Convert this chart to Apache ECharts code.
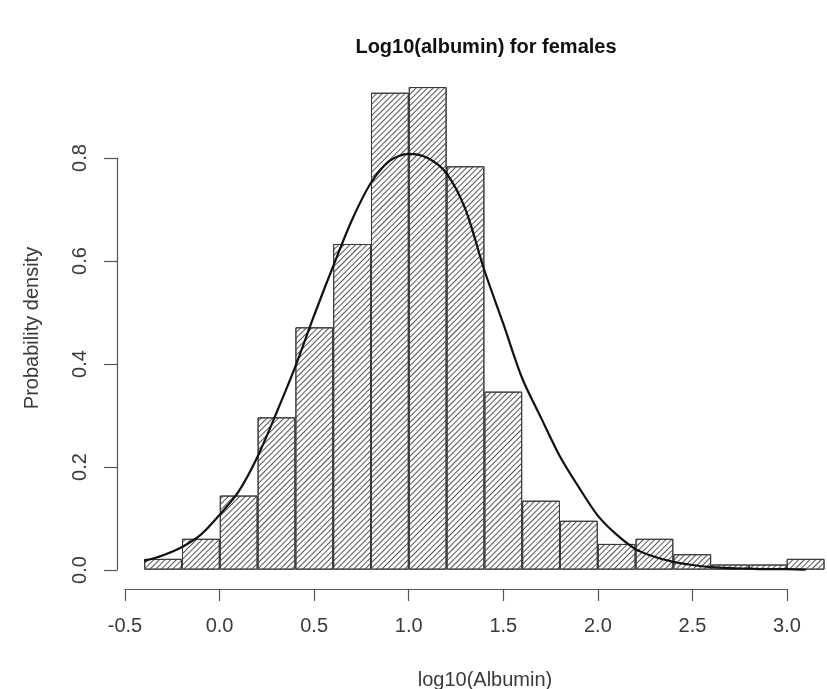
<!DOCTYPE html>
<html>
<head>
<meta charset="utf-8">
<script src="https://cdn.jsdelivr.net/npm/echarts@6/dist/echarts.min.js"></script>
<style>
  html, body { margin: 0; padding: 0; background: #fff; }
  #chart { width: 827px; height: 689px; }
</style>
</head>
<body>
<div id="chart"></div>
<script>
// histogram bins (centre of each 0.2 wide bin) and densities
var binCenters = [-0.3, -0.1, 0.1, 0.3, 0.5, 0.7, 0.9, 1.1, 1.3, 1.5, 1.7, 1.9, 2.1, 2.3, 2.5, 2.7, 2.9, 3.1];
var densities = [0.021, 0.060, 0.144, 0.296, 0.471, 0.633, 0.927, 0.938, 0.784, 0.346, 0.134, 0.095, 0.050, 0.060, 0.030, 0.010, 0.010, 0.021];

// density curve
var curveX = [-0.4, -0.3, -0.2, -0.1, 0.0, 0.1, 0.2, 0.3, 0.4, 0.5, 0.6, 0.7, 0.8, 0.9, 1.0, 1.1, 1.2, 1.3, 1.4, 1.5, 1.6, 1.7, 1.8, 1.9, 2.0, 2.1, 2.2, 2.3, 2.4, 2.5, 2.6, 2.7, 2.8, 2.9, 3.0, 3.1];
var curveY = [0.017, 0.028, 0.044, 0.068, 0.107, 0.152, 0.220, 0.305, 0.395, 0.495, 0.590, 0.680, 0.752, 0.795, 0.808, 0.800, 0.770, 0.700, 0.582, 0.478, 0.372, 0.295, 0.220, 0.160, 0.105, 0.068, 0.040, 0.025, 0.015, 0.009, 0.005, 0.003, 0.002, 0.001, 0.001, 0.000];

var xTicks = { min: -0.5, max: 3.0, step: 0.5 };
var yTicks = { min: 0, max: 0.8, step: 0.2 };

var myChart = echarts.init(document.getElementById('chart'));

var barData = binCenters.map(function (x, i) { return [x, densities[i]]; });
var lineData = curveX.map(function (x, i) { return [x, curveY[i]]; });

var textColor = '#3a3a3a';
var axisColor = '#555';

var option = {
    animation: false,
    backgroundColor: '#fff',
    title: [{
        text: 'Log10(albumin) for females',
        left: 481,
        top: 32,
        textAlign: 'center',
        textStyle: { fontFamily: 'Liberation Sans', fontWeight: 'bold', fontSize: 20, color: '#111' }
    }, {
        text: 'log10(Albumin)',
        left: 480,
        top: 665,
        textAlign: 'center',
        textStyle: { fontFamily: 'Liberation Sans', fontWeight: 'normal', fontSize: 20, color: textColor }
    }],
    grid: [
        // plot region
        { left: 117, right: 0, top: 67, bottom: 100 },
        // x axis (R style, only over the tick range)
        { left: 125, width: 662, top: 588, height: 1 },
        // y axis
        { left: 117, width: 1, top: 158, height: 412 }
    ],
    xAxis: [{
        gridIndex: 0,
        type: 'value',
        min: -0.544,
        max: 3.213,
        show: false
    }, {
        gridIndex: 1,
        type: 'value',
        min: xTicks.min,
        max: xTicks.max,
        interval: xTicks.step,
        axisLine: { show: true, lineStyle: { color: axisColor, width: 1.2 } },
        axisTick: { show: true, inside: false, length: 12, lineStyle: { color: axisColor, width: 1.2 } },
        axisLabel: {
            margin: 27,
            fontFamily: 'Liberation Sans',
            fontSize: 20,
            color: textColor,
            formatter: function (v) { return v.toFixed(1); }
        },
        splitLine: { show: false }
    }, {
        gridIndex: 2,
        type: 'value',
        show: false
    }],
    yAxis: [{
        gridIndex: 0,
        type: 'value',
        min: -0.0376,
        max: 0.977,
        axisLine: { show: false },
        axisTick: { show: false },
        axisLabel: { show: false },
        splitLine: { show: false },
        name: 'Probability density',
        nameLocation: 'middle',
        nameRotate: 90,
        nameGap: 75,
        nameTextStyle: { fontFamily: 'Liberation Sans', fontSize: 20, color: textColor }
    }, {
        gridIndex: 1,
        type: 'value',
        show: false
    }, {
        gridIndex: 2,
        type: 'value',
        min: yTicks.min,
        max: yTicks.max,
        interval: yTicks.step,
        axisLine: { show: true, lineStyle: { color: axisColor, width: 1.2 } },
        axisTick: { show: true, inside: false, length: 13, lineStyle: { color: axisColor, width: 1.2 } },
        axisLabel: {
            margin: 27,
            rotate: 90,
            fontFamily: 'Liberation Sans',
            fontSize: 20,
            color: textColor,
            formatter: function (v) { return v.toFixed(1); }
        },
        splitLine: { show: false }
    }],
    series: [{
        name: 'histogram',
        type: 'bar',
        xAxisIndex: 0,
        yAxisIndex: 0,
        data: barData,
        barCategoryGap: '0%',
        barGap: '0%',
        itemStyle: {
            color: '#fff',
            borderColor: '#3a3a3a',
            borderWidth: 1,
            decal: {
                symbol: 'rect',
                symbolSize: 1,
                color: '#555',
                dashArrayX: [1, 0],
                dashArrayY: [1, 3],
                rotation: -Math.PI / 4
            }
        },
        emphasis: { disabled: true },
        z: 2
    }, {
        name: 'density',
        type: 'line',
        xAxisIndex: 0,
        yAxisIndex: 0,
        data: lineData,
        smooth: 0.3,
        symbol: 'none',
        lineStyle: { color: '#111', width: 2.2 },
        emphasis: { disabled: true },
        z: 3
    }]
};

myChart.setOption(option);
window.addEventListener("resize", function () {
    myChart.resize();
});
</script>
</body>
</html>
